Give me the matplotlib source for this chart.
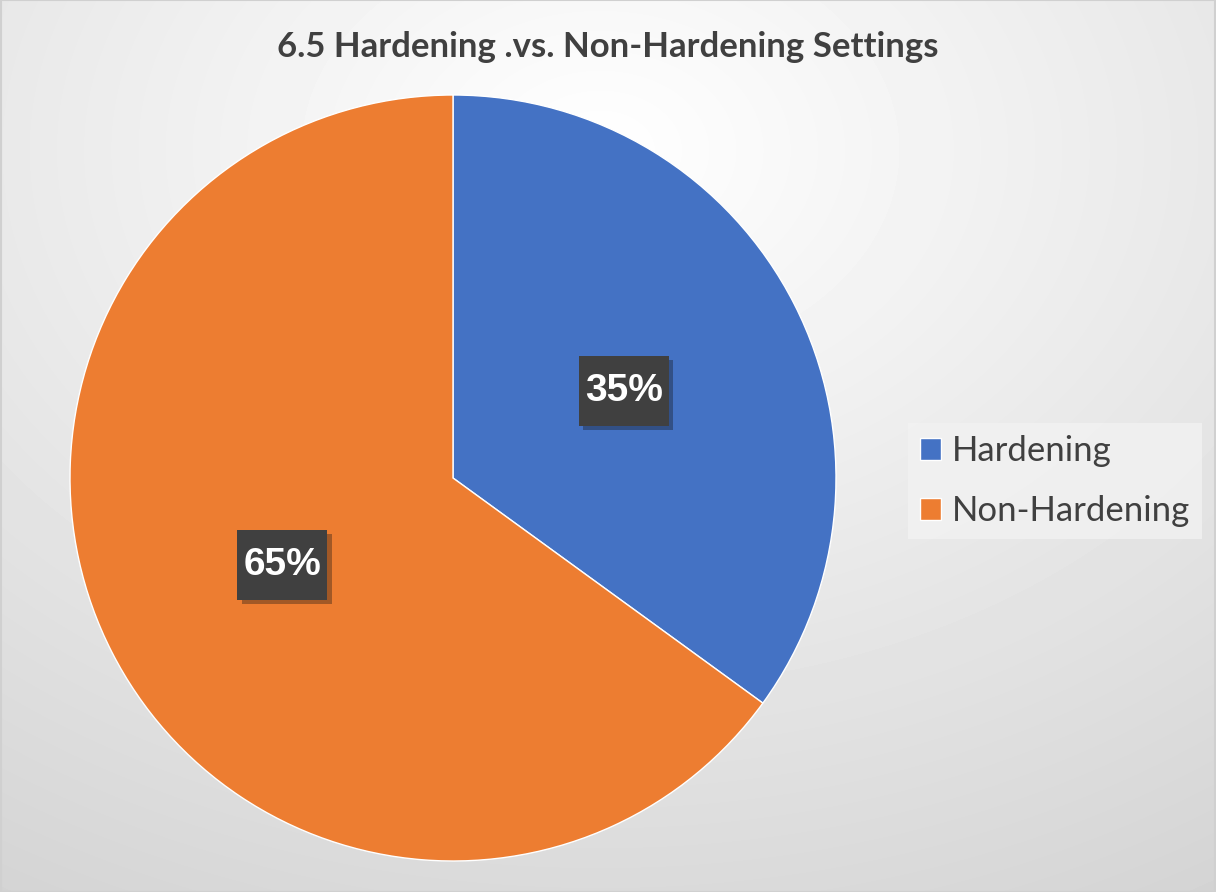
import numpy as np
import matplotlib.pyplot as plt
import matplotlib.patheffects as pe
from matplotlib.patches import Rectangle

labels = ['Hardening', 'Non-Hardening']
values = [35, 65]
colors = ['#4472C4', '#ED7D31']
title = '6.5 Hardening .vs. Non-Hardening Settings'

fig = plt.figure(figsize=(12.16, 8.92), dpi=100)

# soft radial background like the office chart area
bg = fig.add_axes([0, 0, 1, 1])
yy, xx = np.mgrid[0:892, 0:1216]
d = np.sqrt(((xx - 600) / 1216.0) ** 2 + ((yy - 150) / 892.0) ** 2)
shade = np.clip(1.0 - 0.17 * d / d.max(), 0, 1)
bg.imshow(shade, cmap='gray', vmin=0, vmax=1, aspect='auto', extent=[0, 1, 0, 1])
bg.set_xlim(0, 1)
bg.set_ylim(0, 1)
bg.axis('off')
bg.add_patch(Rectangle((0.0005, 0.0005), 0.999, 0.999, fill=False, ec='#D0D0D0', lw=1.5))

ax = fig.add_axes([70 / 1216, 31 / 892, 766 / 1216, 766 / 892])
wedges, texts, autotexts = ax.pie(values, colors=colors, startangle=90, counterclock=False,
                                  autopct='%d%%', pctdistance=0.5, radius=1,
                                  wedgeprops=dict(edgecolor='white', linewidth=1))
ax.set_xlim(-1, 1)
ax.set_ylim(-1, 1)
ax.set_aspect('auto')

# dark label boxes (90 x 70 px) with a soft shadow
bw, bh = 2 * 90 / 766, 2 * 70 / 766
for t in autotexts:
    x, y = t.get_position()
    box = Rectangle((x - bw / 2, y - bh / 2), bw, bh, fc='#404040', ec='none', zorder=3)
    box.set_path_effects([pe.SimplePatchShadow(offset=(3, -3), alpha=0.35), pe.Normal()])
    ax.add_patch(box)
    t.set_family('Liberation Sans')
    t.set_fontsize(28)
    t.set_fontweight('bold')
    t.set_color('white')
    t.set_zorder(4)

fig.text(0.5, 1 - 47 / 892, title, ha='center', va='center', fontsize=25, fontweight='bold',
         family='Lato', color='#404040')

leg = fig.legend(wedges, labels, loc='center left', bbox_to_anchor=(908 / 1216, 1 - 481 / 892),
                 borderaxespad=0, frameon=True, fancybox=False, handlelength=0.6, handleheight=0.6,
                 handletextpad=0.3, labelspacing=0.8, borderpad=0.35,
                 prop=dict(family='Lato', size=25))
leg.get_frame().set_facecolor('#F2F2F2')
leg.get_frame().set_edgecolor('none')
leg.get_frame().set_alpha(0.8)
for txt in leg.get_texts():
    txt.set_color('#404040')

fig.savefig('out.png', dpi=100)
